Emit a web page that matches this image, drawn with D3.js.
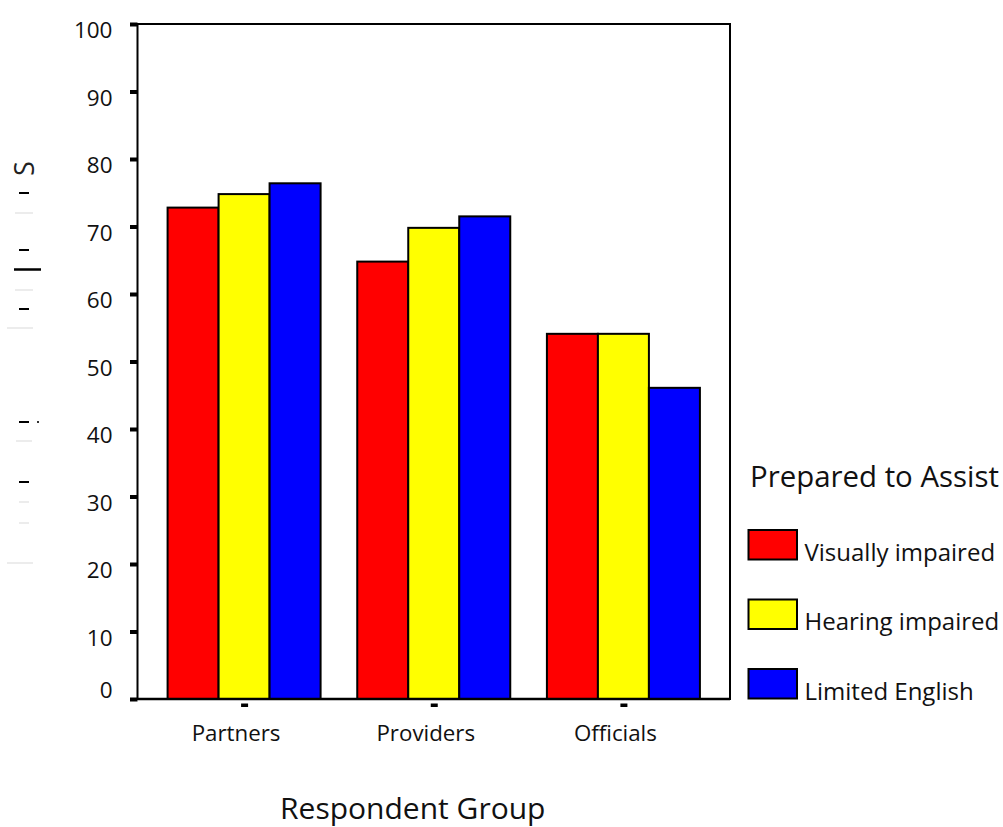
<!DOCTYPE html>
<html>
<head>
<meta charset="utf-8">
<script src="https://cdn.jsdelivr.net/npm/d3@7"></script>
<style>
  html, body { margin: 0; padding: 0; background: #fff; }
  svg { display: block; font-family: "Open Sans", "DejaVu Sans", sans-serif; }
</style>
</head>
<body>
<svg id="chart" width="1003" height="827"></svg>
<script>
// Share of respondents prepared to assist, by respondent group
const groups = ["Partners", "Providers", "Officials"];
const seriesNames = ["Visually impaired", "Hearing impaired", "Limited English"];
const seriesColors = ["#ff0000", "#ffff00", "#0000ff"];
const visuallyImpaired = [72.8, 64.8, 54.1];
const hearingImpaired = [74.8, 69.8, 54.1];
const limitedEnglish = [76.4, 71.5, 46.1];
const yTicks = [0, 10, 20, 30, 40, 50, 60, 70, 80, 90, 100];
const legendTitle = "Prepared to Assist";
const xTitle = "Respondent Group";

const seriesValues = [visuallyImpaired, hearingImpaired, limitedEnglish];

const svg = d3.select("#chart");
const plot = { left: 137.5, right: 730, top: 24, bottom: 699 };

const y = d3.scaleLinear().domain([0, 100]).range([plot.bottom, plot.top]);
const x = d3.scalePoint().domain(groups).range([plot.left, plot.right]).padding(0.562);
const inner = d3.scaleBand().domain(seriesNames).range([-76.5, 76.5]).padding(0);

// plot frame
svg.append("rect")
  .attr("x", plot.left).attr("y", plot.top)
  .attr("width", plot.right - plot.left).attr("height", plot.bottom - plot.top)
  .attr("fill", "#fff").attr("stroke", "#000").attr("stroke-width", 2);

// bars
const rows = groups.map((g, i) => seriesNames.map((s, j) => ({ group: g, series: s, color: seriesColors[j], value: seriesValues[j][i] })));
svg.append("g").selectAll("g").data(rows).join("g")
  .attr("transform", d => `translate(${x(d[0].group)},0)`)
  .selectAll("rect").data(d => d).join("rect")
    .attr("x", d => inner(d.series))
    .attr("y", d => y(d.value))
    .attr("width", inner.bandwidth())
    .attr("height", d => y(0) - y(d.value))
    .attr("fill", d => d.color)
    .attr("stroke", "#000")
    .attr("stroke-width", 2);

// bottom axis line
svg.append("line")
  .attr("x1", plot.left).attr("x2", plot.right)
  .attr("y1", plot.bottom).attr("y2", plot.bottom)
  .attr("stroke", "#000").attr("stroke-width", 2.5);

// y axis
const yAxis = d3.axisLeft(y).tickValues(yTicks).tickSize(0).tickPadding(0).tickFormat(d3.format("d"));
const yg = svg.append("g").attr("transform", `translate(${plot.left},0)`).call(yAxis);
yg.select(".domain").remove();
yg.selectAll(".tick").append("rect")
  .attr("x", -7.5).attr("y", -2).attr("width", 7.5).attr("height", 4).attr("fill", "#000");
yg.selectAll(".tick text")
  .attr("x", -25)
  .attr("dy", d => d === 0 ? "-0.05em" : "0.6em")
  .attr("font-size", 22.5)
  .attr("font-family", "'Open Sans', sans-serif")
  .attr("fill", "#111");

// x axis
const xAxis = d3.axisBottom(x).tickSize(0).tickPadding(0);
const xg = svg.append("g").attr("transform", `translate(0,${plot.bottom})`).call(xAxis);
xg.select(".domain").remove();
xg.selectAll(".tick").append("rect")
  .attr("x", -3.5).attr("y", 4.5).attr("width", 7).attr("height", 3.5).attr("fill", "#000");
xg.selectAll(".tick text")
  .attr("x", -8.5)
  .attr("y", 42)
  .attr("dy", 0)
  .attr("font-size", 22.3)
  .attr("font-family", "'Open Sans', sans-serif")
  .attr("fill", "#111");

// x title
svg.append("text")
  .attr("x", (x(groups[0]) + x(groups[2])) / 2 - 21).attr("y", 819)
  .attr("text-anchor", "middle")
  .attr("font-size", 30)
  .attr("fill", "#111")
  .text(xTitle);

// y title (mostly faded, only fragments remain)
const yTitle = svg.append("g").attr("fill", "#000");
yTitle.append("text")
  .attr("transform", "translate(33.5,168.5) rotate(-90)")
  .attr("text-anchor", "middle")
  .attr("font-size", 27)
  .attr("fill", "#222")
  .text("S");
const frags = [
  [19, 193, 10, 2, 1], [15, 213, 18, 1, 0.15], [19, 250, 10, 2, 1], [14, 269.5, 27, 2.5, 1],
  [15, 290, 18, 1, 0.15], [19, 309, 10, 2, 1], [7, 328, 26, 1, 0.15],
  [19, 422, 10, 2, 1], [37, 422, 2, 2, 0.8], [16, 441, 16, 1, 0.15], [19, 482, 10, 2, 1],
  [19, 502, 10, 1, 0.15], [19, 523, 10, 1, 0.15], [7, 563, 26, 1, 0.15]
];
yTitle.selectAll("rect").data(frags).join("rect")
  .attr("x", d => d[0]).attr("y", d => d[1] - d[3] / 2)
  .attr("width", d => d[2]).attr("height", d => d[3])
  .attr("opacity", d => d[4]);

// legend
const legend = svg.append("g");
legend.append("text")
  .attr("x", 750).attr("y", 487)
  .attr("font-size", 29.4)
  .attr("fill", "#111")
  .text(legendTitle);
const items = legend.selectAll("g.item").data(seriesNames).join("g")
  .attr("class", "item")
  .attr("transform", (d, i) => `translate(748.5,${530 + i * 69.5})`);
items.append("rect")
  .attr("width", 48.5).attr("height", 29.5)
  .attr("fill", (d, i) => seriesColors[i])
  .attr("stroke", "#000").attr("stroke-width", 2);
items.append("text")
  .attr("x", 56).attr("y", 30.5)
  .attr("font-size", 24)
  .attr("fill", "#111")
  .text(d => d);
</script>
</body>
</html>
